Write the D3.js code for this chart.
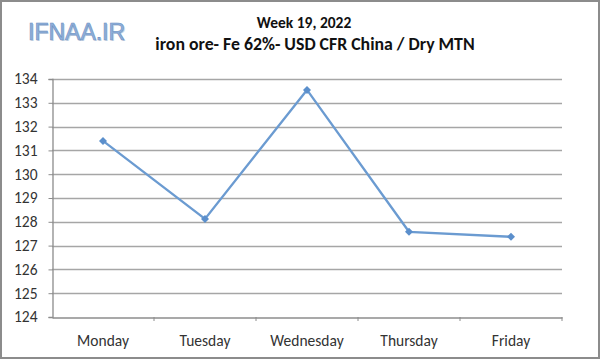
<!DOCTYPE html>
<html><head><meta charset="utf-8">
<script src="https://cdn.jsdelivr.net/npm/d3@7"></script>
<style>body{margin:0;background:#fff}svg{display:block}</style>
</head><body>
<script>
const days = ["Monday","Tuesday","Wednesday","Thursday","Friday"];
const prices = [131.4, 128.12, 133.54, 127.58, 127.37];
const yTicks = [124,125,126,127,128,129,130,131,132,133,134];
const title = "Week 19, 2022";
const subtitle = "iron ore- Fe 62%- USD CFR China / Dry MTN";
const logo = "IFNAA.IR";

const W = 600, H = 359;
const svg = d3.select("body").append("svg").attr("width", W).attr("height", H);
svg.append("rect").attr("x",1).attr("y",1).attr("width",W-2).attr("height",H-2)
  .attr("fill","#fff").attr("stroke","#8c8c8c").attr("stroke-width",2);

const pL = 52, pR = 562, pT = 79, pB = 317;
const x = d3.scaleBand().domain(days).range([pL, pR]);
const y = d3.scaleLinear().domain([124,134]).range([pB, pT]);

const font = "Carlito, Calibri, 'Open Sans', sans-serif";

// gridlines
svg.append("g").selectAll("line").data(yTicks.slice(1)).join("line")
  .attr("x1", pL).attr("x2", pR)
  .attr("y1", d => Math.round(y(d))+0.5).attr("y2", d => Math.round(y(d))+0.5)
  .attr("stroke","#a6a6a6").attr("stroke-width",1.3);

// y axis
const ya = svg.append("g").attr("transform",`translate(${pL+0.5},0)`)
  .call(d3.axisLeft(y).tickValues(yTicks).tickSize(4).tickPadding(11).tickFormat(d3.format("d")));
ya.select(".domain").attr("stroke","#8c8c8c").attr("stroke-width",1.3);
ya.selectAll(".tick line").attr("stroke","#8c8c8c");
ya.selectAll("text").attr("font-family",font).attr("font-size",15.5).attr("fill","#333");

// x axis
const xa = svg.append("g").attr("transform",`translate(0,${pB+0.5})`)
  .call(d3.axisBottom(x).tickSize(0).tickPadding(17));
xa.select(".domain").attr("stroke","#8c8c8c").attr("stroke-width",1.3);
xa.selectAll("text").attr("font-family",font).attr("font-size",15.5).attr("fill","#333");
svg.append("g").selectAll("line").data(days).join("line")
  .attr("x1", d => x(d)+x.bandwidth()).attr("x2", d => x(d)+x.bandwidth())
  .attr("y1", pB).attr("y2", pB+4).attr("stroke","#8c8c8c");

// line
const cx = d => x(d) + x.bandwidth()/2;
svg.append("path").datum(prices)
  .attr("d", d3.line().x((d,i)=>cx(days[i])).y(d=>y(d)))
  .attr("fill","none").attr("stroke","#6b9bd1").attr("stroke-width",2.3);
svg.append("g").selectAll("path").data(prices).join("path")
  .attr("d", d3.symbol().type(d3.symbolSquare).size(32))
  .attr("transform",(d,i)=>`translate(${cx(days[i])},${y(d)}) rotate(45)`)
  .attr("fill","#5b8fcc");

// titles
svg.append("text").attr("x",304).attr("y",28).attr("text-anchor","middle")
  .attr("font-family",font).attr("font-weight","bold").attr("font-size",15.5).attr("fill","#111").text(title);
svg.append("text").attr("x",315).attr("y",50).attr("text-anchor","middle")
  .attr("font-family",font).attr("font-weight","bold").attr("font-size",17.8).attr("fill","#111").text(subtitle);

// logo
svg.append("text").attr("x",29.2).attr("y",41.2)
  .attr("font-family","'Liberation Sans', Arial, sans-serif").attr("font-size",23).attr("fill","#c9d5e4").text(logo);
svg.append("text").attr("x",28).attr("y",40)
  .attr("font-family","'Liberation Sans', Arial, sans-serif").attr("font-size",23)
  .attr("fill","#8fb1dc").attr("stroke","#6d8fbf").attr("stroke-width",0.6).text(logo);
</script>
</body></html>
